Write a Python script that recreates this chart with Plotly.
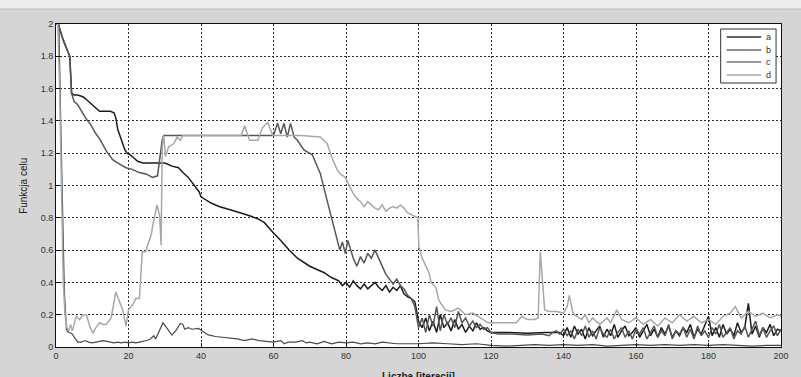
import plotly.graph_objects as go

# ---------------- data ----------------
a_x = [0, 0.6, 2, 3.8, 4.3, 5, 6, 7.4, 8, 9, 10, 11, 12, 13, 14, 15, 16, 16.5, 17, 17.7, 18.3, 19, 19.6, 20.5, 21.5,
       22.5, 24, 27, 30, 31, 32, 33.8, 35, 36.5, 37.5, 38.5, 39.5, 40, 42.9, 45, 48.4, 51, 53.8, 56, 57.5, 59.8, 62,
       64.3, 66.6, 68, 70, 72, 74, 76, 78, 79, 80, 81, 82, 83, 84, 85, 86, 87, 88, 89, 90, 91, 92, 93, 94, 95, 96, 97,
       98, 99, 100, 101, 102, 103, 104, 105, 106, 107, 108, 109, 110, 111, 112, 113, 114, 115, 116, 117, 118, 119,
       120, 125, 130, 135, 139, 140, 141, 142, 143, 144, 145, 146, 147, 148, 149, 150, 151, 152, 153, 154, 155, 156,
       157, 158, 159, 160, 161, 162, 163, 164, 165, 166, 167, 168, 169, 170, 171, 172, 173, 174, 175, 176, 177, 178,
       179, 180, 181, 182, 183, 184, 185, 186, 187, 188, 189, 190, 191, 192, 193, 194, 195, 196, 197, 198, 199, 200]
a_y = [2.0, 2.0, 1.9, 1.8, 1.57, 1.56, 1.56, 1.55, 1.54, 1.52, 1.5, 1.48, 1.46, 1.46, 1.46, 1.46, 1.45, 1.42, 1.35,
       1.3, 1.27, 1.22, 1.2, 1.19, 1.17, 1.15, 1.14, 1.14, 1.14, 1.13, 1.12, 1.11, 1.08, 1.05, 1.02, 0.99, 0.96, 0.93,
       0.89, 0.87, 0.85, 0.83, 0.81, 0.79, 0.77, 0.71, 0.66, 0.6, 0.55, 0.53, 0.5, 0.48, 0.46, 0.43, 0.41, 0.38, 0.4,
       0.37, 0.41, 0.38, 0.36, 0.39, 0.36, 0.38, 0.4, 0.37, 0.35, 0.38, 0.34, 0.37, 0.35, 0.38, 0.33, 0.31, 0.3, 0.28,
       0.16, 0.12, 0.18, 0.1, 0.16, 0.09, 0.2, 0.12, 0.15, 0.1, 0.17, 0.11, 0.14, 0.09, 0.13, 0.1, 0.15, 0.11, 0.12,
       0.1, 0.09, 0.09, 0.085, 0.09, 0.09, 0.07, 0.12, 0.06, 0.13, 0.08, 0.11, 0.05, 0.12, 0.07, 0.1, 0.13, 0.06, 0.11,
       0.07, 0.14, 0.06, 0.1, 0.13, 0.07, 0.09, 0.12, 0.06, 0.1, 0.14, 0.07, 0.11, 0.06, 0.12, 0.08, 0.13, 0.06, 0.1,
       0.07, 0.12, 0.09, 0.14, 0.06, 0.11, 0.08, 0.13, 0.19, 0.07, 0.12, 0.06, 0.14, 0.08, 0.11, 0.07, 0.15, 0.09,
       0.12, 0.27, 0.08, 0.13, 0.06, 0.12, 0.09, 0.14, 0.07, 0.11, 0.1]

b_x = [0, 0.8, 1.3, 1.8, 2.3, 2.9, 3.5, 4.3, 5, 5.5, 6, 7, 8, 9, 10, 11, 12, 13, 14, 15, 16, 17, 18, 19, 20, 21, 22,
       23, 24, 25, 26, 27, 27.5, 28.5, 29.5, 30.5, 32, 33, 34.3, 35, 35.5, 36.5, 37.5, 39.3, 41.1, 42, 44, 46, 48.4,
       50, 52, 54, 56, 58, 60, 62, 63, 64, 66, 68, 69, 70, 72, 74, 76, 78, 80, 82, 84, 86, 88, 90, 92, 94, 100, 104,
       108, 112, 116, 120, 124, 128, 132, 136, 140, 144, 148, 152, 156, 160, 164, 168, 172, 176, 180, 184, 188, 192,
       196, 200]
b_y = [2.0, 2.0, 1.4, 0.8, 0.35, 0.105, 0.09, 0.085, 0.06, 0.04, 0.03, 0.03, 0.04, 0.03, 0.025, 0.03, 0.035, 0.04,
       0.035, 0.03, 0.025, 0.03, 0.025, 0.03, 0.025, 0.03, 0.025, 0.03, 0.035, 0.04, 0.05, 0.07, 0.05, 0.1, 0.15, 0.12,
       0.074, 0.1, 0.146, 0.14, 0.11, 0.12, 0.11, 0.115, 0.085, 0.075, 0.065, 0.06, 0.054, 0.05, 0.04, 0.05, 0.04,
       0.035, 0.03, 0.04, 0.02, 0.03, 0.03, 0.04, 0.025, 0.03, 0.02, 0.035, 0.02, 0.03, 0.025, 0.03, 0.02, 0.025, 0.02,
       0.03, 0.025, 0.02, 0.02, 0.025, 0.02, 0.015, 0.02, 0.01, 0.005, 0.01, 0.015, 0.01, 0.015, 0.01, 0.015, 0.005,
       0.01, 0.015, 0.01, 0.015, 0.01, 0.015, 0.01, 0.015, 0.01, 0.005, 0.01, 0.01]

c_x = [0, 0.6, 2, 3.8, 4.3, 5, 6, 7, 8.4, 9.5, 11, 12, 13, 14, 15, 15.6, 17, 19.3, 21, 23, 25, 26.6, 28, 29.3, 29.7,
       40, 50, 60, 61.1, 62, 62.9, 63.8, 64.7, 65.7, 66.6, 68.4, 70.7, 72.9, 74.3, 75.5, 76.5, 77.5, 78.3, 79, 79.8,
       80.5, 81.3, 82, 83, 84, 85, 86, 87, 88, 89, 90, 91, 92, 93, 94, 95, 96, 97, 98, 99, 100, 101, 102, 103, 104,
       105, 106, 107, 108, 109, 110, 111, 112, 113, 114, 115, 116, 117, 118, 119, 120, 122, 126, 130, 134, 136, 137,
       138, 139, 140, 141, 142, 143, 144, 145, 146, 147, 148, 149, 150, 151, 152, 153, 154, 155, 156, 157, 158, 159,
       160, 161, 162, 163, 164, 165, 166, 167, 168, 169, 170, 171, 172, 173, 174, 175, 176, 177, 178, 179, 180, 181,
       182, 183, 184, 185, 186, 187, 188, 189, 190, 191, 192, 193, 194, 195, 196, 197, 198, 199, 200]
c_y = [2.0, 2.0, 1.9, 1.8, 1.57, 1.52, 1.5, 1.46, 1.41, 1.38, 1.32, 1.29, 1.25, 1.21, 1.18, 1.16, 1.14, 1.11, 1.1,
       1.08, 1.07, 1.05, 1.06, 1.28, 1.31, 1.31, 1.31, 1.31, 1.385, 1.32, 1.385, 1.3, 1.385, 1.3, 1.28, 1.22, 1.19,
       1.075, 0.95, 0.85, 0.75, 0.68, 0.6, 0.65, 0.58, 0.66, 0.6, 0.55, 0.5, 0.56, 0.52, 0.58, 0.55, 0.6, 0.55, 0.5,
       0.45, 0.42, 0.39, 0.42, 0.38, 0.36, 0.32, 0.3, 0.25, 0.12, 0.18, 0.09, 0.2, 0.13, 0.25, 0.1, 0.2, 0.14, 0.18,
       0.12, 0.22, 0.15, 0.18, 0.13, 0.16, 0.12, 0.14, 0.11, 0.12, 0.09, 0.08, 0.08, 0.075, 0.08, 0.07, 0.09, 0.1,
       0.08, 0.11, 0.07, 0.1, 0.05, 0.11, 0.07, 0.13, 0.06, 0.1, 0.05, 0.12, 0.08, 0.06, 0.11, 0.05, 0.09, 0.12, 0.06,
       0.1, 0.05, 0.11, 0.08, 0.12, 0.05, 0.09, 0.13, 0.06, 0.1, 0.07, 0.14, 0.05, 0.1, 0.08, 0.12, 0.06, 0.11, 0.05,
       0.13, 0.07, 0.1, 0.06, 0.12, 0.08, 0.14, 0.06, 0.09, 0.12, 0.05, 0.1, 0.08, 0.13, 0.06, 0.11, 0.16, 0.07,
       0.12, 0.06, 0.1, 0.13, 0.07, 0.11, 0.1]

d_x = [0, 0.5, 1, 1.5, 2, 2.5, 3, 3.5, 4, 4.5, 5, 5.6, 6.5, 7.5, 8.4, 9.3, 10.2, 11, 12, 13, 13.8, 15.2, 16.5, 17.5,
       18.4, 19.3, 20, 21.1, 22, 23, 23.8, 24.7, 25.6, 26.3, 27, 27.9, 28.6, 29, 29.3, 29.7, 30.2, 31.1, 32.5, 33.4,
       34.3, 35, 50, 51.1, 52, 52.7, 53.4, 55.7, 56.3, 57, 58.4, 59.2, 59.8, 61, 67.5, 72.9, 74.8, 76, 77.5, 78.5,
       79.8, 81.1, 82, 83, 84, 85, 86, 87, 88, 89, 90, 91, 92, 93, 94, 95, 96, 97, 98, 99, 99.8, 100.1, 101, 102.9,
       103.5, 104.8, 105.6, 107.4, 109, 111, 113, 115, 117, 119.2, 121, 124, 127, 128.5, 130, 132, 133, 133.6, 134.3,
       134.8, 136, 138, 140, 141, 141.6, 142.5, 143, 145, 146, 147, 148, 150, 152, 153, 154.7, 156, 158, 160, 162,
       164, 166, 168, 170, 172, 174, 176, 178, 180, 182, 184, 186, 187.4, 189, 191, 193, 195, 197, 199, 200]
d_y = [2.0, 2.0, 1.6, 0.9, 0.4, 0.2, 0.12, 0.1, 0.14, 0.1, 0.15, 0.19, 0.17, 0.2, 0.2, 0.13, 0.085, 0.12, 0.15,
       0.14, 0.14, 0.18, 0.34, 0.28, 0.23, 0.13, 0.23, 0.26, 0.3, 0.3, 0.59, 0.59, 0.66, 0.7, 0.79, 0.88, 0.81, 0.63,
       1.24, 1.31, 1.18, 1.24, 1.26, 1.3, 1.28, 1.31, 1.31, 1.31, 1.37, 1.32, 1.28, 1.28, 1.32, 1.36, 1.39, 1.35,
       1.31, 1.31, 1.31, 1.3, 1.26, 1.18, 1.1, 1.07, 1.05, 0.99, 0.95, 0.92, 0.9, 0.87, 0.9, 0.88, 0.86, 0.85, 0.88,
       0.84, 0.86, 0.87, 0.86, 0.88, 0.86, 0.83, 0.82, 0.81, 0.8, 0.62, 0.55, 0.46, 0.4, 0.37, 0.29, 0.23, 0.22,
       0.24, 0.2, 0.21, 0.18, 0.15, 0.15, 0.15, 0.15, 0.19, 0.17, 0.17, 0.18, 0.59, 0.4, 0.23, 0.22, 0.22, 0.21,
       0.25, 0.32, 0.22, 0.2, 0.17, 0.2, 0.15, 0.18, 0.14, 0.18, 0.15, 0.23, 0.17, 0.15, 0.18, 0.14, 0.17, 0.13,
       0.18, 0.15, 0.2, 0.16, 0.19, 0.15, 0.17, 0.14, 0.19, 0.21, 0.25, 0.18, 0.22, 0.19, 0.21, 0.18, 0.2, 0.19]

series_names = ["a", "b", "c", "d"]
x_ticks = [0, 20, 40, 60, 80, 100, 120, 140, 160, 180, 200]
y_ticks = [0, 0.2, 0.4, 0.6, 0.8, 1, 1.2, 1.4, 1.6, 1.8, 2]
y_tick_labels = ["0", "0.2", "0.4", "0.6", "0.8", "1", "1.2", "1.4", "1.6", "1.8", "2"]
x_title = "Liczba [iteracji]"
y_title = "Funkcja celu"

# ---------------- figure ----------------
W, H = 801, 377
ML, MR, MT, MB = 56, 12, 24, 30
PW, PH = W - ML - MR, H - MT - MB


def px_x(p):  # pixel column -> paper x
    return (p - ML) / PW


def px_y(p):  # pixel row -> paper y
    return (H - MB - p) / PH


styles = {
    "a": dict(color="#1c1c1c", width=1.5),
    "b": dict(color="#4a4a4a", width=1.2),
    "c": dict(color="#575757", width=1.5),
    "d": dict(color="#a8a8a8", width=1.5),
}
legend_colors = {"a": "#333333", "b": "#222222", "c": "#7a7a7a", "d": "#a8a8a8"}
legend_widths = {"a": 1.6, "b": 1.1, "c": 1.6, "d": 1.5}
data = {"a": (a_x, a_y), "b": (b_x, b_y), "c": (c_x, c_y), "d": (d_x, d_y)}

fig = go.Figure()
for name in series_names:
    xs, ys = data[name]
    fig.add_trace(go.Scatter(x=xs, y=ys, mode="lines", name=name, line=styles[name], showlegend=False))

font_family = "Liberation Sans, Arial, sans-serif"
axis_common = dict(
    showgrid=True, gridcolor="#2a2a2a", gridwidth=1, griddash="2px,2px",
    showline=True, linecolor="#111111", linewidth=1, mirror=True,
    ticks="inside", ticklen=4, tickcolor="#111111",
    zeroline=False, tickfont=dict(family=font_family, size=9, color="#333333"),
)
fig.update_xaxes(range=[0, 200], tickvals=x_ticks, **axis_common)
fig.update_yaxes(range=[0, 2], tickvals=y_ticks, ticktext=y_tick_labels, **axis_common)

shapes = [
    dict(type="rect", xref="paper", yref="paper", x0=-0.1, x1=1.1,
         y0=px_y(9), y1=px_y(0), fillcolor="#ececec", line=dict(width=0), layer="below"),
    dict(type="line", xref="paper", yref="paper", x0=-0.1, x1=1.1,
         y0=px_y(9), y1=px_y(9), line=dict(color="#bdbdbd", width=1)),
    # legend box
    dict(type="rect", xref="paper", yref="paper", x0=px_x(728), x1=px_x(784),
         y0=px_y(83), y1=px_y(29), fillcolor="#ffffff", line=dict(color="#333333", width=1)),
]
annotations = [
    dict(text=y_title, xref="paper", yref="paper", x=px_x(23), y=0.5,
         textangle=-90, showarrow=False, xanchor="center", yanchor="middle",
         font=dict(size=10, color="#222222")),
    dict(text="<b>" + x_title + "</b>", xref="paper", yref="paper", x=0.5, y=px_y(376),
         showarrow=False, xanchor="center", yanchor="middle",
         font=dict(size=10, color="#222222")),
]
legend_rows = [37, 50, 62, 75]
for name, row in zip(series_names, legend_rows):
    shapes.append(dict(type="line", xref="paper", yref="paper", x0=px_x(734), x1=px_x(769),
                       y0=px_y(row), y1=px_y(row),
                       line=dict(color=legend_colors[name], width=legend_widths[name])))
    annotations.append(dict(text=name, xref="paper", yref="paper", x=px_x(776), y=px_y(row),
                            showarrow=False, xanchor="center", yanchor="middle",
                            font=dict(size=9, color="#333333")))

fig.update_layout(
    width=W, height=H,
    margin=dict(l=ML, r=MR, t=MT, b=MB),
    paper_bgcolor="#d5d5d5", plot_bgcolor="#ffffff",
    font=dict(family=font_family, size=9, color="#222222"),
    showlegend=False,
    shapes=shapes,
    annotations=annotations,
)

fig.write_html("out.html", config={"displayModeBar": False},
               post_script="document.body.style.margin='0px';document.body.style.overflow='hidden';")
